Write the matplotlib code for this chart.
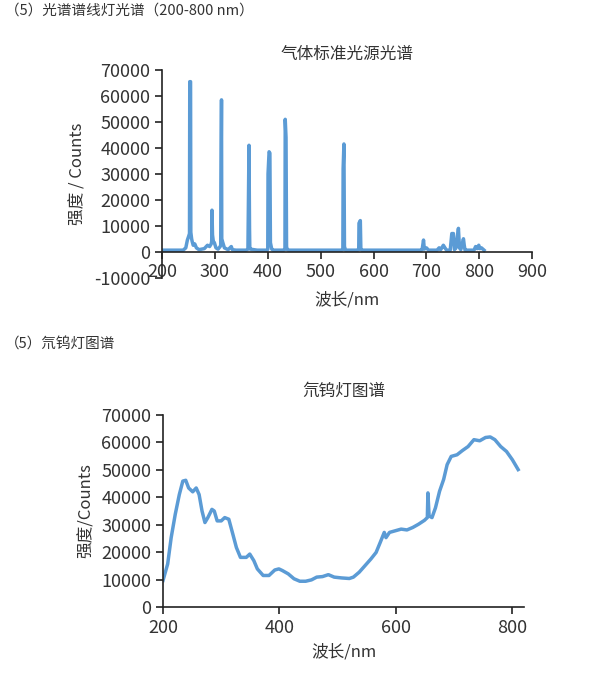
import matplotlib
matplotlib.use("Agg")
import matplotlib.pyplot as plt

plt.rcParams['font.family'] = ['Noto Sans CJK SC', 'DejaVu Sans']
plt.rcParams['axes.unicode_minus'] = False

# line lamp spectrum (wavelength nm, counts)
line_nm = [200, 240, 245, 248, 250.5, 252, 252.5, 254, 254.5, 256, 257, 259, 262, 265,
           270, 280, 286, 290, 293, 294, 294.5, 295.5, 297, 299, 302, 306,
           310, 311, 311.5, 312.5, 313, 315, 318, 325, 331, 333, 340,
           359, 362.5, 363, 364.5, 365.5, 366, 367, 380,
           399, 400, 400.5, 402.5, 404, 405, 407.5, 410, 420,
           430, 432.5, 433, 434.5, 435.5, 436.5, 439, 445,
           540, 542, 542.5, 544, 545, 547, 570, 572, 572.5, 575, 576, 578, 582,
           690, 692, 694.5, 696, 700, 704, 708, 720, 724, 727, 732, 735, 738,
           745, 748, 751, 753, 756, 760.5, 762.5, 765, 770, 771.5, 773, 776,
           790, 793, 796, 799, 801, 804, 809]
line_counts = [600, 600, 1500, 4500, 6000, 7000, 65500, 65500, 7500, 5000, 4000, 2500, 3000, 1500,
               800, 1200, 2500, 2000, 3000, 4000, 16000, 6500, 4000, 3500, 1500, 1000,
               2000, 2500, 25500, 58500, 5000, 3500, 1500, 800, 2000, 800, 600,
               600, 1000, 11000, 41000, 9000, 1500, 1000, 600,
               600, 1000, 30000, 38500, 38000, 3500, 1000, 600, 600,
               600, 1000, 51000, 44000, 2000, 1000, 600, 600,
               600, 1000, 32000, 41500, 2000, 600, 600, 1000, 11000, 12000, 1000, 600, 600,
               600, 1000, 4500, 1000, 1500, 600, 600, 600, 1500, 800, 2500, 1500, 600,
               600, 7000, 7000, 800, 1500, 9000, 1500, 800, 5000, 2500, 600, 600,
               600, 2000, 1200, 2500, 1200, 1500, 600]

# deuterium-tungsten lamp spectrum
dw_nm = [200, 208, 214, 221, 228, 234, 239, 244, 251, 257, 262, 267, 272, 277,
         284, 288, 293, 300, 306, 313, 320, 326, 333, 343, 349, 356, 362, 372,
         382, 392, 399, 405, 415, 425, 435, 445, 455, 464, 474, 484, 494, 507,
         520, 527, 537, 547, 557, 566, 573, 580, 583, 589, 599, 609, 619, 629,
         639, 649, 654, 655, 657, 662, 668, 675, 682, 688, 695, 705, 714, 724,
         734, 744, 754, 762, 770, 780, 790, 800, 810]
dw_counts = [9700, 15700, 25300, 33800, 41000, 45900, 46200, 43400, 42000, 43400,
             41000, 35000, 30800, 32600, 35600, 35000, 31400, 31400, 32600, 32000,
             26500, 21700, 18100, 18100, 19300, 16900, 13900, 11500, 11500, 13500,
             13900, 13300, 12100, 10300, 9400, 9400, 9900, 10900, 11100, 11800,
             10900, 10600, 10400, 10900, 12700, 15100, 17500, 19900, 23500, 27200,
             25300, 27200, 27800, 28400, 28100, 29000, 30200, 31600, 32600, 41600,
             33200, 32600, 36200, 42200, 46500, 51900, 54900, 55500, 57000, 58500,
             61000, 60600, 61800, 62000, 61000, 58500, 56700, 53700, 50100]

blue = '#5b9bd5'
txt = '#333333'

fig = plt.figure(figsize=(6, 6.75), dpi=100)

fig.text(0.008, 0.985, '（5）光谱谱线灯光谱（200-800 nm）', fontsize=10.5,
         color=txt, va='center', ha='left')
fig.text(0.008, 0.490, '（5）氘钨灯图谱', fontsize=10.5,
         color=txt, va='center', ha='left')


def style_axes(ax):
    ax.spines['top'].set_visible(False)
    ax.spines['right'].set_visible(False)
    for s in ('left', 'bottom'):
        ax.spines[s].set_linewidth(1.2)
        ax.spines[s].set_color('#222222')
    ax.tick_params(direction='out', length=5, width=1.2, colors='#222222',
                   labelsize=13, labelcolor=txt)


# top chart: line lamp
ax1 = fig.add_axes([0.27, 0.5886, 0.617, 0.3077])
ax1.plot(line_nm, line_counts, color=blue, lw=2.5)
ax1.set_xlim(200, 900)
ax1.set_ylim(-10000, 70000)
ax1.set_xticks(range(200, 901, 100))
ax1.set_yticks(range(-10000, 70001, 10000))
style_axes(ax1)
ax1.spines['bottom'].set_position(('data', 0))
ax1.tick_params(axis='x', pad=3)
ax1.set_title('气体标准光源光谱', fontsize=12, color=txt, pad=8)
ax1.set_ylabel('强度 / Counts', fontsize=12, color=txt, labelpad=5)
ax1.set_xlabel('波长/nm', fontsize=12, color=txt, labelpad=8)

# bottom chart: deuterium-tungsten lamp
ax2 = fig.add_axes([0.2717, 0.1007, 0.6016, 0.2845])
ax2.plot(dw_nm, dw_counts, color=blue, lw=2.5)
ax2.set_xlim(200, 820)
ax2.set_ylim(0, 70000)
ax2.set_xticks(range(200, 801, 200))
ax2.set_yticks(range(0, 70001, 10000))
style_axes(ax2)
ax2.set_title('氘钨灯图谱', fontsize=12, color=txt, pad=14)
ax2.set_ylabel('强度/Counts', fontsize=12, color=txt, labelpad=5)
ax2.set_xlabel('波长/nm', fontsize=12, color=txt, labelpad=5)

fig.savefig('out.png', dpi=100)
